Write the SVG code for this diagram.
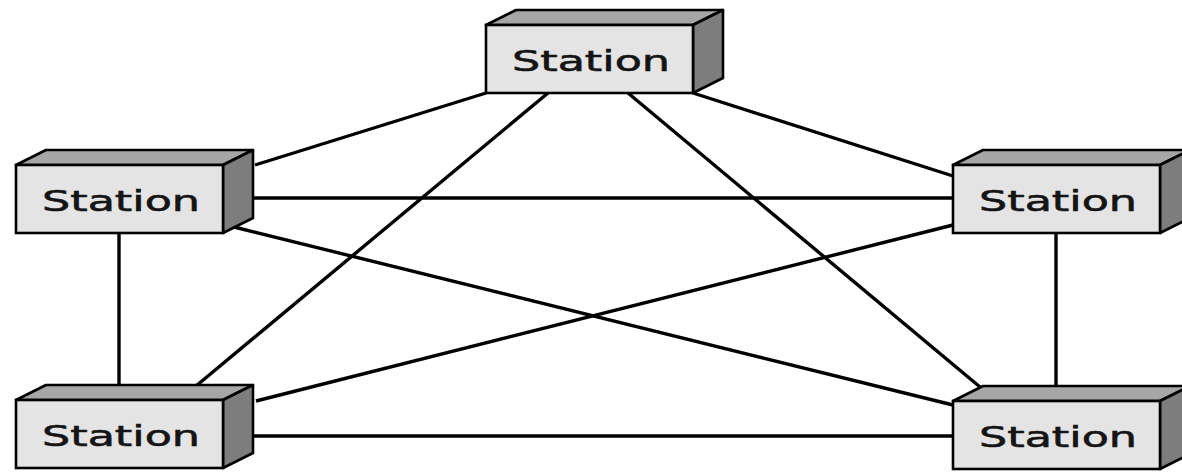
<svg xmlns="http://www.w3.org/2000/svg" width="1182" height="472" viewBox="0 0 1182 472">
<style>
.edge{stroke:#000;stroke-width:3.4;fill:none}
.front{fill:#e4e4e4;stroke:#000;stroke-width:2.6}
.top{fill:#a6a6a6;stroke:#000;stroke-width:2.6;stroke-linejoin:round}
.side{fill:#7d7d7d;stroke:#000;stroke-width:2.6;stroke-linejoin:round}
.lbl{font-family:"DejaVu Sans",Verdana,sans-serif;font-size:29px;fill:#141414;stroke:#141414;stroke-width:0.6}
</style>
<defs>
<g id="box">
<polygon class="top" points="0,0 30,-15 237,-15 207,0"/>
<polygon class="side" points="207,0 237,-15 237,53 207,68"/>
<rect class="front" x="0" y="0" width="207" height="68"/>
<text class="lbl" x="26" y="46" textLength="158" lengthAdjust="spacingAndGlyphs">Station</text>
</g>
</defs>
<rect width="1182" height="472" fill="#fff"/>
<g id="connectors">
<line class="edge" x1="486" y1="93" x2="255" y2="165"/>
<line class="edge" x1="693" y1="93" x2="953" y2="176"/>
<line class="edge" x1="548" y1="93" x2="196" y2="386"/>
<line class="edge" x1="628" y1="93" x2="980" y2="387"/>
<line class="edge" x1="254" y1="198" x2="953" y2="198"/>
<line class="edge" x1="234" y1="227" x2="953" y2="405"/>
<line class="edge" x1="953" y1="225" x2="256" y2="401"/>
<line class="edge" x1="119" y1="233" x2="119" y2="386"/>
<line class="edge" x1="1056" y1="233" x2="1056" y2="387"/>
<line class="edge" x1="254" y1="436" x2="953" y2="436"/>
</g>
<g id="station-top"><use href="#box" x="486" y="25"/></g>
<g id="station-left"><use href="#box" x="16" y="165"/></g>
<g id="station-right"><use href="#box" x="953" y="165"/></g>
<g id="station-bottom-left"><use href="#box" x="16" y="400"/></g>
<g id="station-bottom-right"><use href="#box" x="953" y="401"/></g>
</svg>
